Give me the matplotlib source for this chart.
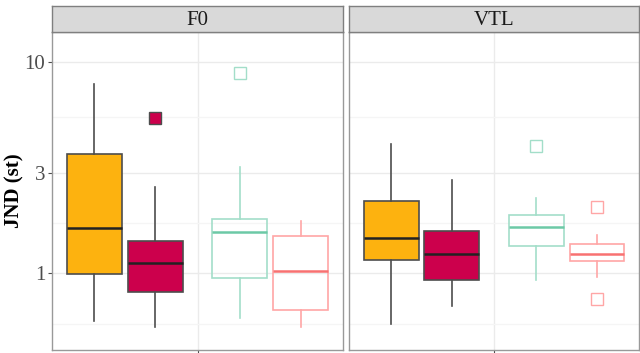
import matplotlib
matplotlib.use('Agg')
import numpy as np
from matplotlib import pyplot as plt

plt.rcParams['font.family'] = ['Liberation Serif', 'DejaVu Serif']

panels = ['F0', 'VTL']
groups = ['g1', 'g2', 'g3', 'g4']
# box stats per panel: [whislo, q1, med, q3, whishi]
f0_stats = [
    [0.594, 0.99, 1.64, 3.69, 7.87],
    [0.555, 0.813, 1.12, 1.42, 2.57],
    [0.612, 0.953, 1.57, 1.81, 3.2],
    [0.558, 0.67, 1.03, 1.51, 1.77],
]
f0_outliers = [[], [5.43], [8.93], []]
vtl_stats = [
    [0.573, 1.16, 1.47, 2.21, 4.1],
    [0.702, 0.927, 1.24, 1.59, 2.77],
    [0.927, 1.35, 1.66, 1.89, 2.28],
    [0.964, 1.14, 1.23, 1.37, 1.52],
]
vtl_outliers = [[], [], [4.01], [2.06, 0.758]]

fills = ['#FDB20F', '#CC004C', 'none', 'none']
edges = ['#4D4D4D', '#4D4D4D', '#A3DEC9', '#FFA6A6']
medians = ['#222222', '#222222', '#6CC9A6', '#F87171']
offsets = [-0.425, -0.175, 0.175, 0.426]
width = 0.227

fig = plt.figure(figsize=(6.4, 3.53), dpi=100)
W, H = 640, 353
boxes = [(52, 343), (349, 639)]

for (x0, x1), name, stats, outl in zip(boxes, panels,
                                       [f0_stats, vtl_stats],
                                       [f0_outliers, vtl_outliers]):
    ax = fig.add_axes([x0 / W, 1 - 350 / H, (x1 - x0) / W, (350 - 32) / H])
    sax = fig.add_axes([x0 / W, 1 - 32 / H, (x1 - x0) / W, 26 / H])
    sax.set_facecolor('#D9D9D9')
    sax.set_xticks([])
    sax.set_yticks([])
    for s in sax.spines.values():
        s.set_color('#7F7F7F')
        s.set_linewidth(1.0)
    sax.text(0.5, 0.45, name, ha='center', va='center', fontsize=15,
             color='#1A1A1A', transform=sax.transAxes)

    ax.set_yscale('log')
    ax.set_ylim(0.433, 13.92)
    ax.set_xlim(0.4, 1.6)
    ax.set_yticks([1, 3, 10])
    ax.set_yticks([1 / np.sqrt(3), np.sqrt(3), np.sqrt(30)], minor=True)
    ax.yaxis.set_minor_formatter(plt.NullFormatter())
    ax.set_xticks([1])
    ax.set_xticklabels([''])
    ax.grid(True, which='major', color='#EBEBEB', lw=1.0)
    ax.grid(True, which='minor', axis='y', color='#F5F5F5', lw=1.0)
    ax.set_axisbelow(True)
    ax.tick_params(which='major', length=3, color='#4D4D4D', labelsize=15,
                   labelcolor='#4D4D4D', pad=2)
    ax.tick_params(which='minor', length=0)
    for s in ax.spines.values():
        s.set_color('#999999')
        s.set_linewidth(1.0)
    if name == 'F0':
        ax.set_yticklabels(['1', '3', '10'])
        ax.set_ylabel('JND (st)', fontsize=15, fontweight='bold', labelpad=0)
    else:
        ax.set_yticklabels([])
        ax.tick_params(axis='y', length=0)

    for i in range(4):
        lo, q1, med, q3, hi = stats[i]
        st = [dict(whislo=lo, q1=q1, med=med, q3=q3, whishi=hi, fliers=outl[i])]
        ax.bxp(st, positions=[1 + offsets[i]], widths=width, patch_artist=True,
               showcaps=False,
               boxprops=dict(facecolor=fills[i], edgecolor=edges[i], lw=1.2),
               whiskerprops=dict(color=edges[i], lw=1.2),
               medianprops=dict(color=medians[i], lw=1.8),
               flierprops=dict(marker='s', markersize=9,
                               markerfacecolor=fills[i] if fills[i] != 'none' else 'none',
                               markeredgecolor=edges[i], markeredgewidth=1.0))
    ax.set_xticks([1])
    ax.set_xticklabels([''])

fig.savefig('out.png', dpi=100)
